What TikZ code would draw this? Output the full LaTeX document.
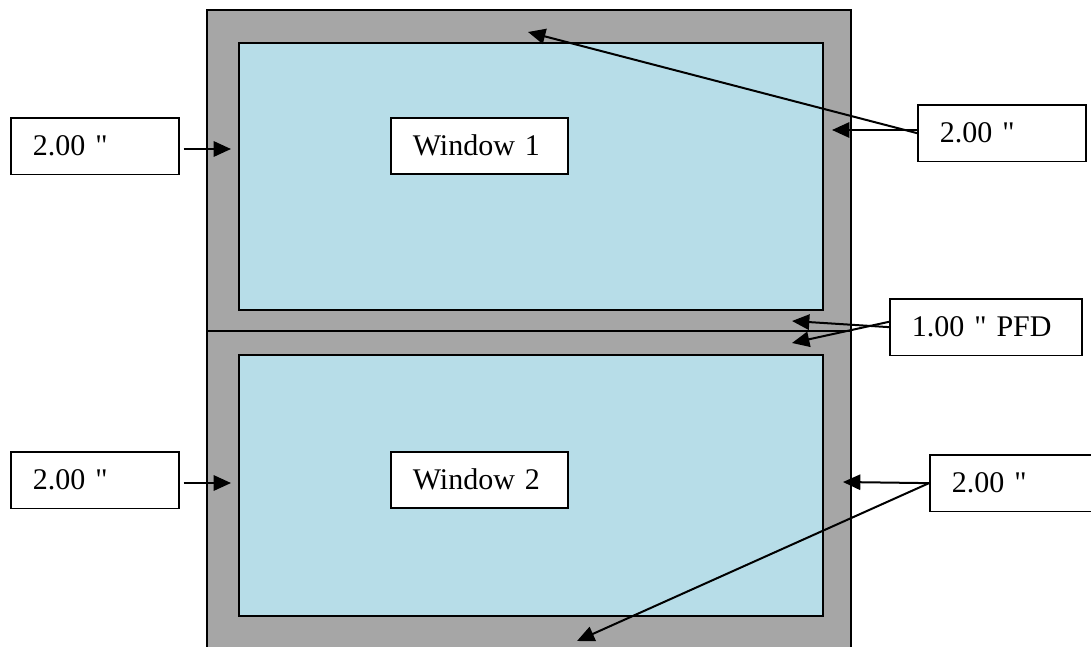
\documentclass[tikz,border=0pt]{standalone}
\usepackage{fontspec}
\setmainfont{Liberation Serif}
\usetikzlibrary{arrows.meta}

\definecolor{frameGrey}{RGB}{166,166,166}
\definecolor{paneBlue}{RGB}{183,221,232}

\tikzset{every picture/.style={line width=1.2pt}}
\tikzset{
  lbl/.style={draw, fill=white, anchor=north west, align=left, inner xsep=16.5pt,
    inner ysep=0pt, minimum height=42.5pt, text width=#1,
    font=\fontsize{22.5}{26}\selectfont},
  arr/.style={line width=1.5pt, -{Triangle[length=13pt,width=11.5pt]}}
}

\begin{document}
\begin{tikzpicture}[x=0.75pt,y=0.75pt,yscale=-1,xscale=1]
	\useasboundingbox (0,0) rectangle (1091,646);

	%Shape: Frame
	\draw [fill=frameGrey] (207,10) rectangle (851,662);
	%Straight Lines: mullion
	\draw (207,331) -- (851,331);
	%Shape: Window panes
	\draw [fill=paneBlue] (239,43) rectangle (823,310);
	\draw [fill=paneBlue] (239,355) rectangle (823,616);

	% Text Node
	\node [lbl=99.75pt, minimum height=42pt] (winA) at (390,117) {Window 1};
	% Text Node
	\node [lbl=99.75pt, minimum height=42pt] (winB) at (390,451) {Window 2};
	% Text Node
	\node [lbl=93pt] (sideTL) at (10,117) {2.00 \textquotedbl};
	% Text Node
	\node [lbl=93pt] (sideTR) at (917,104) {2.00 \textquotedbl};
	% Text Node
	\node [lbl=111pt] (pfd) at (889,298) {1.00 \textquotedbl\ PFD};
	% Text Node
	\node [lbl=93pt] (sideBL) at (10,451) {2.00 \textquotedbl};
	% Text Node
	\node [lbl=93pt] (sideBR) at (929,454) {2.00 \textquotedbl};

	% arrow ends on the frame
	\coordinate (tipTL) at (231,149);
	\coordinate (tipTR) at (832,130);
	\coordinate (tipTop) at (528,32);
	\coordinate (tipRailA) at (792,321);
	\coordinate (tipRailB) at (792,343);
	\coordinate (tipBL) at (231,483);
	\coordinate (tipBR) at (843,482);
	\coordinate (tipBot) at (577,641);

	%Straight Lines
	\draw [arr] ([xshift=3pt]sideTL.east |- tipTL) -- (tipTL);
	\draw [arr] (sideTR.west |- tipTR) -- (tipTR);
	\draw [arr] (sideTR.west) -- (tipTop);
	\draw [arr] (pfd.west) -- (tipRailA);
	\draw [arr] ([yshift=-4pt]pfd.west) -- (tipRailB);
	\draw [arr] ([xshift=3pt]sideBL.east |- tipBL) -- (tipBL);
	\draw [arr] (sideBR.west) -- (tipBR);
	\draw [arr] (sideBR.west) -- (tipBot);

\end{tikzpicture}
\end{document}
